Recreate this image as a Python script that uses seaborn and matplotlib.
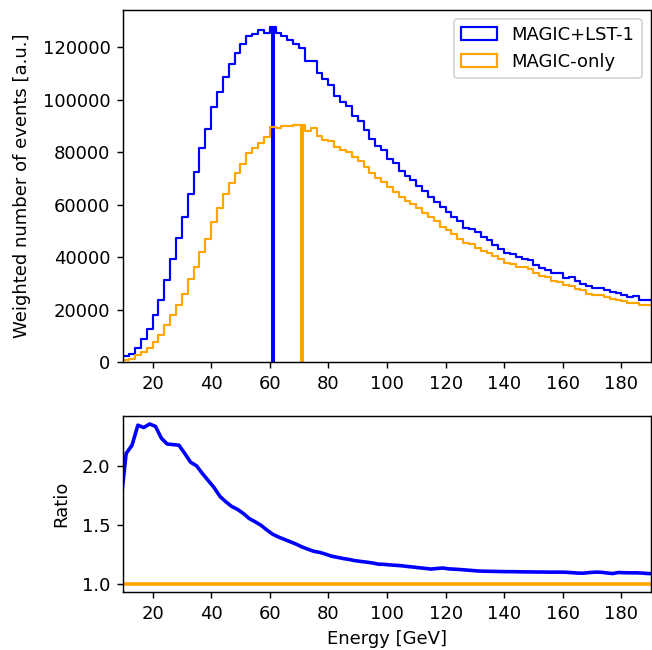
import numpy as np
import pandas as pd
import matplotlib
matplotlib.use("Agg")
import matplotlib.pyplot as plt
from matplotlib.patches import Patch
import seaborn as sns

# ---------------- data ----------------
bin_edges = list(range(10, 192, 2))  # 10, 12, ..., 190

magic_lst1_counts = [
    2180, 3200, 5500, 8670, 12760, 17970, 23580, 31490, 39370, 47400,
    55300, 64100, 72620, 81800, 88940, 97460, 103080, 108800, 113800, 118000,
    121300, 124200, 125200, 126800, 125700, 128000, 125500, 124500, 123000, 121300,
    119700, 115000, 114800, 110300, 107900, 105600, 101550, 99370, 97730, 94020,
    91800, 88700, 85120, 82500, 80910, 77600, 75830, 72890, 70980, 69300,
    67160, 65240, 62900, 61150, 59000, 57200, 55420, 53780, 51150, 50650,
    49500, 47650, 46510, 44600, 43150, 41430, 41050, 39900, 39370, 38760,
    37200, 35930, 35300, 34020, 34020, 32240, 32500, 30840, 29950, 28930,
    28420, 28300, 27400, 26760, 26500, 25740, 24850, 25230, 23830, 23830,
]

magic_only_counts = [
    650, 1300, 2560, 3820, 5500, 7640, 10470, 14290, 18110, 21670,
    25870, 31600, 36080, 42040, 47010, 53510, 58860, 64000, 68410, 72000,
    75440, 79640, 81790, 83700, 86000, 89600, 89320, 90080, 90080, 90350,
    90580, 88000, 89100, 86260, 84730, 84300, 82170, 80910, 80270, 78360,
    76830, 74530, 72240, 70090, 68790, 66880, 64970, 62830, 61530, 60270,
    58620, 56710, 55500, 53800, 51400, 50300, 49000, 47000, 45600, 45100,
    43650, 42500, 41700, 40400, 39130, 37840, 37340, 36310, 36080, 35310,
    34020, 32760, 32500, 30840, 30600, 29310, 29060, 28040, 27400, 26130,
    25740, 25610, 24850, 24210, 23830, 23310, 22550, 22680, 21670, 21670,
]

ratio_energy = list(range(9, 193, 2))  # 9, 11, ..., 191
ratio_magic_lst1 = [
    1.65, 2.11, 2.18, 2.35, 2.33, 2.36, 2.34, 2.24, 2.19, 2.185,
    2.18, 2.11, 2.035, 2.005, 1.94, 1.88, 1.82, 1.745, 1.70, 1.66,
    1.635, 1.60, 1.557, 1.53, 1.50, 1.46, 1.424, 1.40, 1.38, 1.36,
    1.34, 1.316, 1.297, 1.279, 1.27, 1.255, 1.238, 1.228, 1.218, 1.21,
    1.20, 1.193, 1.187, 1.18, 1.17, 1.168, 1.163, 1.16, 1.156, 1.15,
    1.145, 1.139, 1.134, 1.128, 1.133, 1.137, 1.13, 1.127, 1.124, 1.12,
    1.116, 1.112, 1.11, 1.109, 1.108, 1.107, 1.106, 1.106, 1.105, 1.104,
    1.104, 1.103, 1.103, 1.102, 1.102, 1.102, 1.101, 1.098, 1.094, 1.093,
    1.098, 1.102, 1.101, 1.095, 1.090, 1.099, 1.097, 1.096, 1.096, 1.094,
    1.090, 1.089,
]

labels = ["MAGIC+LST-1", "MAGIC-only"]
colors = ["blue", "orange"]

# ---------------- figure ----------------
plt.rcParams["font.family"] = ["DejaVu Sans"]
plt.rcParams["font.size"] = 10

DPI = 130
fig = plt.figure(figsize=(652 / DPI, 650 / DPI), dpi=DPI)
ax_top = fig.add_axes([0.189, 0.443, 0.809, 0.542])
ax_bot = fig.add_axes([0.189, 0.089, 0.809, 0.271])

edges = np.array(bin_edges, dtype=float)
centers = 0.5 * (edges[:-1] + edges[1:])

for counts, col in zip([magic_lst1_counts, magic_only_counts], colors):
    counts = np.array(counts, dtype=float)
    hist_df = pd.DataFrame({"energy": centers, "counts": counts})
    sns.histplot(data=hist_df, x="energy", weights="counts", bins=bin_edges,
                 element="step", fill=False, color=col, linewidth=1.2,
                 ax=ax_top)
    imax = int(np.argmax(counts))
    ax_top.vlines(centers[imax], 0, counts[imax], color=col, linewidth=2.2)

ax_top.set_xlim(10, 190)
ax_top.set_ylim(0, 1.05 * max(magic_lst1_counts))
ax_top.set_ylabel("Weighted number of events [a.u.]", labelpad=6.5)
ax_top.set_xlabel("")
ax_top.set_xticks(range(20, 181, 20))
handles = [Patch(facecolor="none", edgecolor=c, linewidth=1.2) for c in colors]
ax_top.legend(handles, labels, loc="upper right", fontsize=10)

ratio_df = pd.DataFrame({
    "energy": ratio_energy,
    "MAGIC+LST-1": ratio_magic_lst1,
})
ratio_df["MAGIC-only"] = 1.0  # reference / reference
sns.lineplot(data=ratio_df, x="energy", y="MAGIC+LST-1", color="blue",
             linewidth=2, ax=ax_bot)
sns.lineplot(data=ratio_df, x="energy", y="MAGIC-only", color="orange",
             linewidth=2, ax=ax_bot)
ax_bot.set_xlim(10, 190)
ax_bot.set_xticks(range(20, 181, 20))
ax_bot.set_yticks([1.0, 1.5, 2.0])
ymin = 1.0
ymax = max(ratio_magic_lst1)
pad = 0.05 * (ymax - ymin)
ax_bot.set_ylim(ymin - pad, ymax + pad)
ax_bot.set_xlabel("Energy [GeV]")
ax_bot.set_ylabel("Ratio", labelpad=6.5)

fig.savefig("out.png", dpi=DPI)
